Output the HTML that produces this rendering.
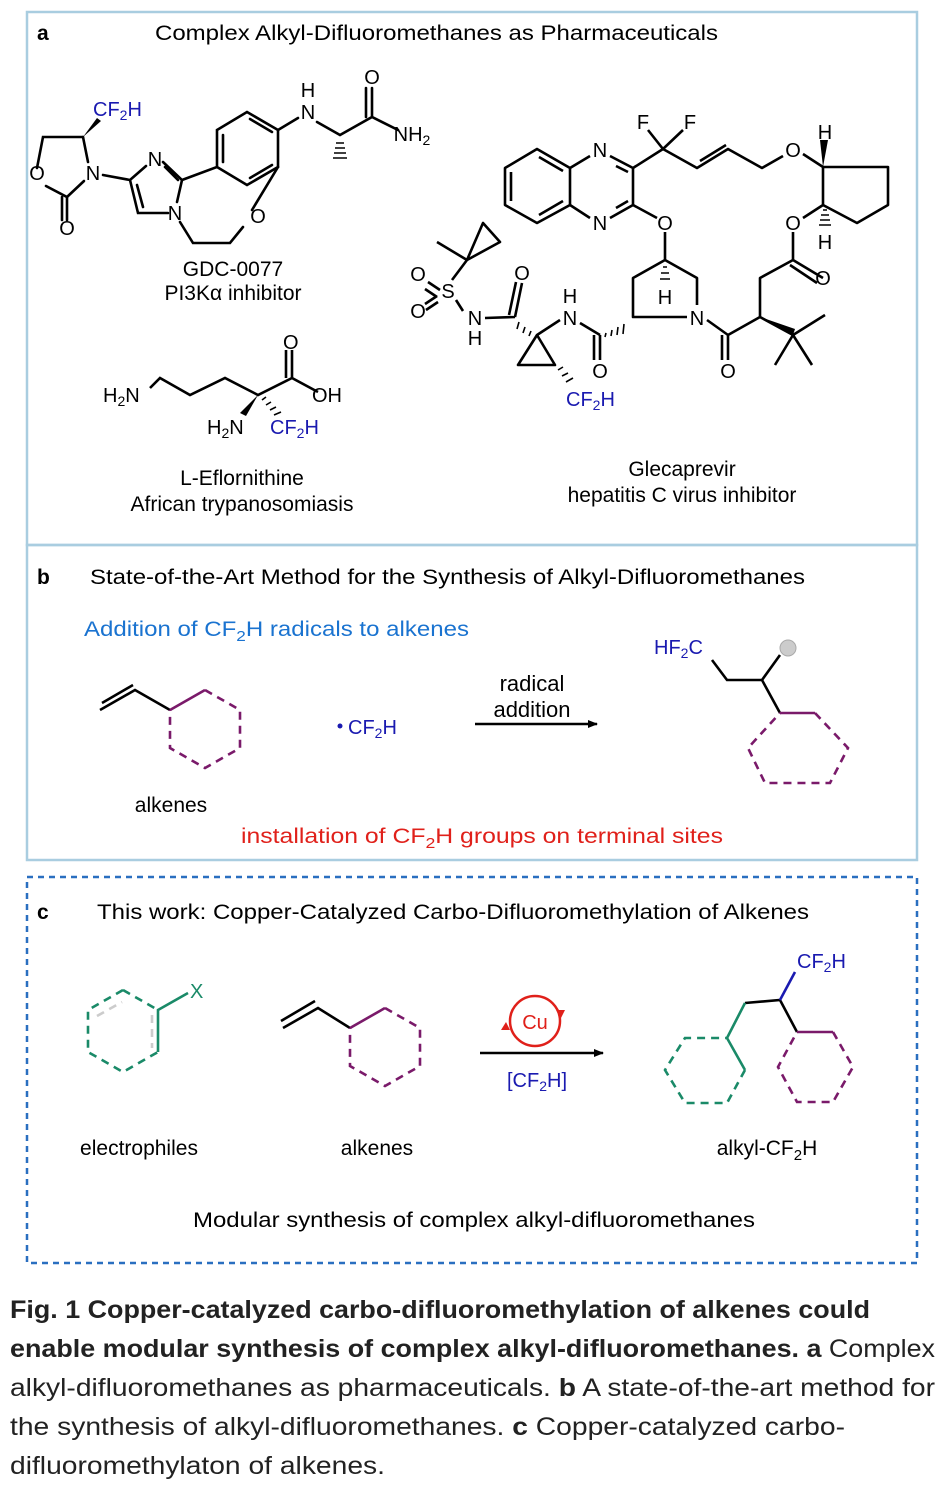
<!DOCTYPE html>
<html><head><meta charset="utf-8"><style>
html,body{margin:0;padding:0;background:#fff;}
svg{display:block;}
text{font-family:"Liberation Sans",Arial,sans-serif;}
</style></head><body>
<svg width="944" height="1486" viewBox="0 0 944 1486" xmlns="http://www.w3.org/2000/svg">
<defs>
<marker id="ah" markerWidth="10" markerHeight="8" refX="9" refY="4" orient="auto" markerUnits="userSpaceOnUse"><path d="M0,0 L10,4 L0,8 z" fill="#000"/></marker>
</defs>
<rect x="27" y="12" width="890" height="533" fill="none" stroke="#a9cde0" stroke-width="2.5"/>
<rect x="27" y="545" width="890" height="315" fill="none" stroke="#a9cde0" stroke-width="2.5"/>
<rect x="27" y="877" width="890" height="386" fill="none" stroke="#2a6fc0" stroke-width="2.5" stroke-dasharray="6,5"/>

<g font-size="21" fill="#000">
<text x="37" y="40" font-weight="bold">a</text>
<text x="155" y="40" textLength="563" lengthAdjust="spacingAndGlyphs">Complex Alkyl-Difluoromethanes as Pharmaceuticals</text>
<text x="37" y="584" font-weight="bold">b</text>
<text x="90" y="584" textLength="715" lengthAdjust="spacingAndGlyphs">State-of-the-Art Method for the Synthesis of Alkyl-Difluoromethanes</text>
<text x="37" y="919" font-weight="bold">c</text>
<text x="97" y="919" textLength="712" lengthAdjust="spacingAndGlyphs">This work: Copper-Catalyzed Carbo-Difluoromethylation of Alkenes</text>
</g>

<!-- GDC-0077 -->
<g stroke="#000" stroke-width="2.6" fill="none" stroke-linecap="round">
<path d="M83,137 L43,137 L37,168"/>
<path d="M46,186 L67,197 L84,181"/>
<path d="M67,197 L67,220 M62,197 L62,220" />
<path d="M88,162 L83,137"/>
<path d="M103,175 L130,180 L146,166 M163,162 L182,180 L177,202 M168,213 L138,213 L130,180 M137,185 L143,207 M165,167 L178,180"/>
<path d="M182,180 L217,167 L217,130 L247,112 L278,130 L278,167 L247,185 L217,167 M223,135 L223,162 M250,119 L272,132 M250,178 L272,165"/>
<path d="M278,167 L252,210 M243,227 L230,243 L193,243 L180,222"/>
<path d="M278,130 L298,118 M317,122 L340,135 L372,117 L398,130 M372,117 L372,88 M366,117 L366,88"/>
</g>
<path d="M83,137 L101,121 L97,118 z" fill="#000"/>
<g stroke="#000" stroke-width="1.6"><path d="M336,143 h8 M335,148 h10 M334,153 h12 M333,158 h14"/></g>
<g font-size="20" fill="#000" text-anchor="middle">
<text x="37" y="180">O</text><text x="93" y="180">N</text><text x="67" y="235">O</text>
<text x="155" y="166">N</text><text x="175" y="220">N</text><text x="258" y="223">O</text>
<text x="308" y="97">H</text><text x="308" y="119">N</text><text x="372" y="84">O</text>
<text x="412" y="141">NH<tspan font-size="14" dy="4">2</tspan></text>
</g>
<text x="93" y="116" font-size="20" fill="#1a1ab0">CF<tspan font-size="14" dy="4">2</tspan><tspan dy="-4">H</tspan></text>
<text x="233" y="276" font-size="21" text-anchor="middle">GDC-0077</text>
<text x="233" y="300" font-size="21" text-anchor="middle">PI3Kα inhibitor</text>

<!-- Eflornithine -->
<g stroke="#000" stroke-width="2.6" fill="none">
<path d="M150,388 L160,378 L190,395 L225,378 L258,395 L292,378 L292,350 M286,378 L286,350 M292,378 L318,392"/>
</g>
<path d="M258,395 L240,413 L246,416 z" fill="#000"/>
<g stroke="#000" stroke-width="1.6"><path d="M262,400 l4,-3 M266,405 l5,-3 M270,410 l6,-3 M274,415 l7,-3"/></g>
<g font-size="20" fill="#000">
<text x="103" y="402">H<tspan font-size="14" dy="4">2</tspan><tspan dy="-4">N</tspan></text>
<text x="283" y="349">O</text><text x="312" y="402">OH</text>
<text x="207" y="434">H<tspan font-size="14" dy="4">2</tspan><tspan dy="-4">N</tspan></text>
</g>
<text x="270" y="434" font-size="20" fill="#1a1ab0">CF<tspan font-size="14" dy="4">2</tspan><tspan dy="-4">H</tspan></text>
<text x="242" y="485" font-size="21" text-anchor="middle">L-Eflornithine</text>
<text x="242" y="511" font-size="21" text-anchor="middle">African trypanosomiasis</text>

<!-- Glecaprevir -->
<g stroke="#000" stroke-width="2.6" fill="none" stroke-linejoin="round">
<path d="M505,168 L537,149 L570,168 L570,205 L537,223 L505,205 Z M511,172 L511,201 M539,157 L563,171 M539,215 L563,201"/>
<path d="M570,168 L590,156 M610,156 L633,168 L633,205 L610,218 M590,218 L570,205 M616,166 L628,172 M616,208 L628,201"/>
<path d="M633,168 L663,149 L648,130 M663,149 L683,130 M663,149 L697,168 L728,149 L762,168 L783,156 M700,161 L726,145"/>
<path d="M803,154 L823,167 M823,167 L888,167 L888,205 L857,223 L823,205 Z M823,205 L803,218"/>
<path d="M633,205 L657,218 M665,232 L665,260 L697,278 L697,305 M687,317 L633,317 L633,278 L665,260"/>
<path d="M793,232 L793,260 L823,278 M790,265 L817,283 M793,260 L760,278 L760,317 L793,335 L825,315 M793,335 L775,365 M793,335 L812,365"/>
<path d="M707,320 L728,335 L760,317 M728,335 L728,360 M722,335 L722,360"/>
<path d="M600,335 L600,360 M594,335 L594,360 M600,335 L580,323"/>
<path d="M560,320 L537,335 M537,335 L518,365 L555,365 Z"/>
<path d="M485,318 L515,317 M515,317 L522,283 M509,315 L516,282"/>
<path d="M463,311 L456,300 M440,290 L428,282 M437,297 L425,289 M438,302 L426,310 M437,296 L425,304 M452,280 L467,260 L437,242 M467,260 L483,223 L500,242 Z"/>
</g>
<path d="M823,167 L828,140 L820,140 z" fill="#000"/>
<path d="M760,317 L793,335 L795,329 z" fill="#000"/>
<g stroke="#000" stroke-width="1.6">
<path d="M823,210 l4,0 M821,215 l8,0 M820,220 l10,0 M819,225 l12,0"/>
<path d="M663,267 l4,0 M661,273 l8,0 M660,279 l10,0"/>
<path d="M606,333 l-1,4 M612,330 l-1,6 M618,327 l-1,8 M624,324 l-1,10"/>
<path d="M531,331 l-2,5 M525,327 l-2,6 M519,322 l-2,7"/>
<path d="M558,370 l5,-3 M562,376 l6,-3 M566,382 l7,-4"/>
</g>
<g font-size="20" fill="#000" text-anchor="middle">
<text x="600" y="157">N</text><text x="600" y="230">N</text>
<text x="643" y="129">F</text><text x="690" y="129">F</text>
<text x="793" y="157">O</text><text x="825" y="139">H</text><text x="825" y="249">H</text>
<text x="793" y="230">O</text><text x="823" y="285">O</text>
<text x="665" y="230">O</text><text x="665" y="304">H</text><text x="697" y="325">N</text>
<text x="728" y="378">O</text><text x="600" y="378">O</text>
<text x="570" y="303">H</text><text x="570" y="325">N</text>
<text x="522" y="280">O</text><text x="475" y="325">N</text><text x="475" y="345">H</text>
<text x="448" y="298">S</text><text x="418" y="281">O</text><text x="418" y="318">O</text>
</g>
<text x="566" y="406" font-size="20" fill="#1a1ab0">CF<tspan font-size="14" dy="4">2</tspan><tspan dy="-4">H</tspan></text>
<text x="682" y="476" font-size="21" text-anchor="middle">Glecaprevir</text>
<text x="682" y="502" font-size="21" text-anchor="middle">hepatitis C virus inhibitor</text>

<!-- panel b -->
<text x="84" y="636" font-size="21" fill="#1a73d0" textLength="385" lengthAdjust="spacingAndGlyphs">Addition of CF<tspan font-size="15" dy="5">2</tspan><tspan dy="-5">H radicals to alkenes</tspan></text>
<g stroke-width="2.6" fill="none">
<path d="M100,710 L135,690 L170,710 M102,703 L133,685" stroke="#000"/>
<path d="M170,710 L205,690" stroke="#7a1a6a"/>
<path d="M205,690 L240,710 L240,748 L205,768 L170,748 L170,710" stroke="#7a1a6a" stroke-dasharray="8,6"/>
</g>
<text x="171" y="812" font-size="21" text-anchor="middle">alkenes</text>
<circle cx="340" cy="726" r="2.5" fill="#1a1ab0"/>
<text x="348" y="734" font-size="20" fill="#1a1ab0">CF<tspan font-size="14" dy="4">2</tspan><tspan dy="-4">H</tspan></text>
<text x="532" y="691" font-size="22" text-anchor="middle">radical</text>
<text x="532" y="717" font-size="22" text-anchor="middle">addition</text>
<line x1="475" y1="724" x2="597" y2="724" stroke="#000" stroke-width="2.5" marker-end="url(#ah)"/>
<text x="654" y="654" font-size="20" fill="#1a1ab0">HF<tspan font-size="14" dy="4">2</tspan><tspan dy="-4">C</tspan></text>
<g stroke-width="2.6" fill="none">
<path d="M712,660 L727,680 L762,680 L780,713 M762,680 L780,655" stroke="#000"/>
<path d="M780,713 L815,713" stroke="#7a1a6a"/>
<path d="M815,713 L848,748 L830,783 L765,783 L748,748 L780,713" stroke="#7a1a6a" stroke-dasharray="8,6"/>
</g>
<circle cx="788" cy="648" r="8" fill="#ccc" stroke="#aaa"/>
<text x="482" y="843" font-size="21" fill="#e0201a" text-anchor="middle" textLength="482" lengthAdjust="spacingAndGlyphs">installation of CF<tspan font-size="15" dy="5">2</tspan><tspan dy="-5">H groups on terminal sites</tspan></text>

<!-- panel c -->
<g stroke-width="2.6" fill="none">
<path d="M123,990 L88,1010 L88,1052 L123,1072 L158,1052" stroke="#1a8a68" stroke-dasharray="8,6"/>
<path d="M158,1052 L158,1010 L188,993" stroke="#1a8a68"/>
<path d="M123,990 L158,1010" stroke="#1a8a68" stroke-dasharray="8,6"/>
<path d="M152,1015 L152,1048 M97,1016 L122,1002" stroke="#ccc" stroke-dasharray="8,6"/>
</g>
<text x="190" y="998" font-size="20" fill="#1a8a68">X</text>
<g stroke-width="2.6" fill="none">
<path d="M283,1028 L318,1008 L350,1028 M281,1021 L315,1001" stroke="#000"/>
<path d="M350,1028 L385,1008" stroke="#7a1a6a"/>
<path d="M385,1008 L420,1028 L420,1066 L385,1086 L350,1066 L350,1028" stroke="#7a1a6a" stroke-dasharray="8,6"/>
</g>
<text x="139" y="1155" font-size="21" text-anchor="middle">electrophiles</text>
<text x="377" y="1155" font-size="21" text-anchor="middle">alkenes</text>
<circle cx="535" cy="1021" r="25" fill="none" stroke="#e0201a" stroke-width="2.5"/>
<path d="M556,1010 l5,8 l4,-8 z M510,1030 l-4,-8 l-5,8 z" fill="#e0201a"/>
<text x="535" y="1029" font-size="20" fill="#e0201a" text-anchor="middle">Cu</text>
<line x1="480" y1="1053" x2="603" y2="1053" stroke="#000" stroke-width="2.5" marker-end="url(#ah)"/>
<text x="537" y="1087" font-size="20" fill="#1a1ab0" text-anchor="middle">[CF<tspan font-size="14" dy="4">2</tspan><tspan dy="-4">H]</tspan></text>
<text x="797" y="968" font-size="20" fill="#1a1ab0">CF<tspan font-size="14" dy="4">2</tspan><tspan dy="-4">H</tspan></text>
<g stroke-width="2.6" fill="none">
<path d="M745,1003 L780,1000 L797,1032" stroke="#000"/>
<path d="M780,1000 L795,972" stroke="#1a1ab0"/>
<path d="M745,1003 L727,1038 L745,1070" stroke="#1a8a68"/>
<path d="M745,1070 L727,1103 L685,1103 L665,1070 L685,1038 L727,1038" stroke="#1a8a68" stroke-dasharray="8,6"/>
<path d="M797,1032 L833,1032" stroke="#7a1a6a"/>
<path d="M833,1032 L853,1067 L833,1102 L797,1102 L778,1067 L797,1032" stroke="#7a1a6a" stroke-dasharray="8,6"/>
</g>
<text x="767" y="1155" font-size="21" text-anchor="middle">alkyl-CF<tspan font-size="15" dy="5">2</tspan><tspan dy="-5">H</tspan></text>
<text x="474" y="1227" font-size="21" text-anchor="middle" textLength="562" lengthAdjust="spacingAndGlyphs">Modular synthesis of complex alkyl-difluoromethanes</text>

<!-- caption -->
<g font-size="25" fill="#222">
<text x="10" y="1318" font-weight="bold" textLength="860" lengthAdjust="spacingAndGlyphs">Fig. 1 Copper-catalyzed carbo-difluoromethylation of alkenes could</text>
<text x="10" y="1357" textLength="925" lengthAdjust="spacingAndGlyphs"><tspan font-weight="bold">enable modular synthesis of complex alkyl-difluoromethanes. a</tspan> Complex</text>
<text x="10" y="1396" textLength="925" lengthAdjust="spacingAndGlyphs">alkyl-difluoromethanes as pharmaceuticals. <tspan font-weight="bold">b</tspan> A state-of-the-art method for</text>
<text x="10" y="1435" textLength="835" lengthAdjust="spacingAndGlyphs">the synthesis of alkyl-difluoromethanes. <tspan font-weight="bold">c</tspan> Copper-catalyzed carbo-</text>
<text x="10" y="1474" textLength="375" lengthAdjust="spacingAndGlyphs">difluoromethylaton of alkenes.</text>
</g>
</svg>
</body></html>
